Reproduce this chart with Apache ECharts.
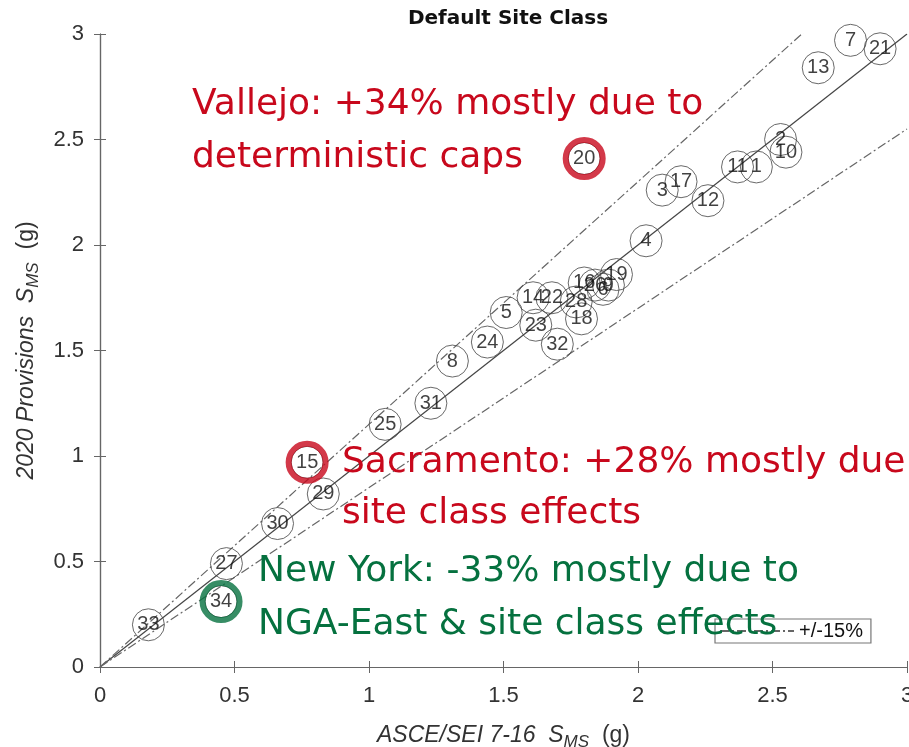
<!DOCTYPE html>
<html>
<head>
<meta charset="utf-8">
<script src="https://cdn.jsdelivr.net/npm/echarts@6/dist/echarts.min.js"></script>
<style>
  html, body { margin: 0; padding: 0; background: #fff; }
  #chart { width: 909px; height: 747px; }
</style>
</head>
<body>
<div id="chart"></div>
<script>
// site ids and their S_MS values (ASCE/SEI 7-16 vs 2020 Provisions)
const siteIds = [1, 2, 3, 4, 5, 6, 7, 8, 9, 10, 11, 12, 13, 14, 15, 16, 17,
  18, 19, 20, 21, 22, 23, 24, 25, 26, 27, 28, 29, 30, 31, 32, 33, 34];
const asce716 = [2.44, 2.53, 2.09, 2.03, 1.51, 1.87, 2.79, 1.31, 1.89, 2.55, 2.37, 2.26, 2.67, 1.61, 0.77, 1.80, 2.16,
  1.79, 1.92, 1.80, 2.90, 1.68, 1.62, 1.44, 1.06, 1.84, 0.47, 1.77, 0.83, 0.66, 1.23, 1.70, 0.18, 0.45];
const prov2020 = [2.37, 2.50, 2.26, 2.02, 1.68, 1.79, 2.97, 1.45, 1.81, 2.44, 2.37, 2.21, 2.84, 1.75, 0.97, 1.82, 2.30,
  1.65, 1.86, 2.41, 2.93, 1.75, 1.62, 1.54, 1.15, 1.81, 0.49, 1.73, 0.82, 0.68, 1.25, 1.53, 0.20, 0.31];

// reference lines
const oneToOneX = [0, 3];
const oneToOneY = [0, 3];
const upperX = [0, 3];
const upperY = [0, 3.45];   // +15%
const lowerX = [0, 3];
const lowerY = [0, 2.55];   // -15%

const redSites = [20, 15];
const greenSites = [34];

const redColor = '#c8081c';
const greenColor = '#05713f';

function pts(ids) {
  return ids.map(id => {
    const i = siteIds.indexOf(id);
    return [asce716[i], prov2020[i], id];
  });
}
function linePts(xs, ys) {
  return xs.map((x, i) => [x, ys[i]]);
}

const chart = echarts.init(document.getElementById('chart'));

const tickLabel = { fontFamily: 'Liberation Sans', fontSize: 22, color: '#333' };
const axisLine = { lineStyle: { color: '#666', width: 1.2 } };
const dashDot = [9, 3, 2, 3];
const nameRich = {
  it: { fontFamily: 'Liberation Sans', fontStyle: 'italic', fontSize: 23, color: '#333', lineHeight: 30 },
  sub: { fontFamily: 'Liberation Sans', fontStyle: 'italic', fontSize: 17, color: '#333', padding: [12, 0, 0, 0] },
  n: { fontFamily: 'Liberation Sans', fontSize: 23, color: '#333' }
};
const annFont = '36px "DejaVu Sans"';

chart.setOption({
  animation: false,
  backgroundColor: '#fff',
  title: {
    text: 'Default Site Class',
    left: 503, top: 4, textAlign: 'center',
    textStyle: { fontFamily: 'DejaVu Sans', fontWeight: 'bold', fontSize: 20, color: '#111' }
  },
  grid: { left: 100, right: 2, top: 34, bottom: 80, outerBoundsMode: 'none' },
  legend: {
    data: ['+/-15%'],
    left: 715, top: 619,
    itemWidth: 74, itemHeight: 16, itemGap: 4,
    padding: [2, 8, 2, 4],
    borderColor: '#777', borderWidth: 1.2,
    backgroundColor: '#fff',
    itemStyle: { opacity: 0 },
    textStyle: { fontFamily: 'Liberation Sans', fontSize: 20, color: '#111' }
  },
  xAxis: [{
    type: 'value', min: 0, max: 3, interval: 0.5,
    axisLine: axisLine,
    axisTick: { inside: true, length: 6, lineStyle: { color: '#666' } },
    splitLine: { show: false },
    axisLabel: Object.assign({ margin: 18, formatter: v => String(v) }, tickLabel),
    name: '{it|ASCE/SEI 7-16  S}{sub|MS}{n|  (g)}',
    nameLocation: 'middle', nameGap: 54,
    nameTextStyle: { rich: nameRich }
  }, {
    type: 'value', min: 0, max: 3, interval: 0.5, position: 'top',
    axisLine: axisLine,
    axisTick: { inside: true, length: 6, lineStyle: { color: '#666' } },
    axisLabel: { show: false }, splitLine: { show: false }
  }],
  yAxis: [{
    type: 'value', min: 0, max: 3, interval: 0.5,
    axisLine: axisLine,
    axisTick: { inside: true, length: 6, lineStyle: { color: '#666' } },
    splitLine: { show: false },
    axisLabel: Object.assign({ margin: 16, formatter: v => String(v) }, tickLabel),
    name: '{it|2020 Provisions  S}{sub|MS}{n|  (g)}',
    nameLocation: 'middle', nameGap: 58, nameRotate: 90,
    nameTextStyle: { rich: nameRich }
  }, {
    type: 'value', min: 0, max: 3, interval: 0.5, position: 'right',
    axisLine: axisLine,
    axisTick: { inside: true, length: 6, lineStyle: { color: '#666' } },
    axisLabel: { show: false }, splitLine: { show: false }
  }],
  series: [
    {
      name: '1:1', type: 'line', data: linePts(oneToOneX, oneToOneY),
      symbol: 'none', silent: true,
      lineStyle: { color: '#444', width: 1.2 }
    },
    {
      name: '+/-15%', type: 'line', data: linePts(upperX, upperY),
      symbol: 'none', silent: true, clip: true,
      itemStyle: { color: '#666' },
      lineStyle: { color: '#666', width: 1.2, type: dashDot }
    },
    {
      name: '+/-15% lower', type: 'line', data: linePts(lowerX, lowerY),
      symbol: 'none', silent: true,
      lineStyle: { color: '#666', width: 1.2, type: dashDot }
    },
    {
      name: 'sites', type: 'scatter',
      data: siteIds.map((id, i) => [asce716[i], prov2020[i], id]),
      symbol: 'circle', symbolSize: 32,
      itemStyle: { color: 'rgba(255,255,255,0)', borderColor: '#444', borderWidth: 1 },
      label: {
        show: true, position: 'inside',
        formatter: p => String(p.value[2]),
        fontFamily: 'Liberation Sans', fontSize: 20, color: '#111'
      },
      z: 3
    },
    {
      name: 'red', type: 'scatter', data: pts(redSites),
      symbol: 'circle', symbolSize: 37, silent: true,
      itemStyle: { color: 'rgba(255,255,255,0)', borderColor: redColor, borderWidth: 6 },
      z: 4
    },
    {
      name: 'green', type: 'scatter', data: pts(greenSites),
      symbol: 'circle', symbolSize: 37, silent: true,
      itemStyle: { color: 'rgba(255,255,255,0)', borderColor: greenColor, borderWidth: 6 },
      z: 4
    }
  ],
  graphic: [
    { type: 'text', left: 192, top: 78, z: 10,
      style: { text: 'Vallejo: +34% mostly due to\ndeterministic caps', fill: redColor,
        font: annFont, lineHeight: 53 } },
    { type: 'text', left: 342, top: 437, z: 10,
      style: { text: 'Sacramento: +28% mostly due\nsite class effects', fill: redColor,
        font: annFont, lineHeight: 51 } },
    { type: 'text', left: 258, top: 545, z: 10,
      style: { text: 'New York: -33% mostly due to\nNGA-East & site class effects', fill: greenColor,
        font: annFont, lineHeight: 53 } }
  ]
});
</script>
</body>
</html>
